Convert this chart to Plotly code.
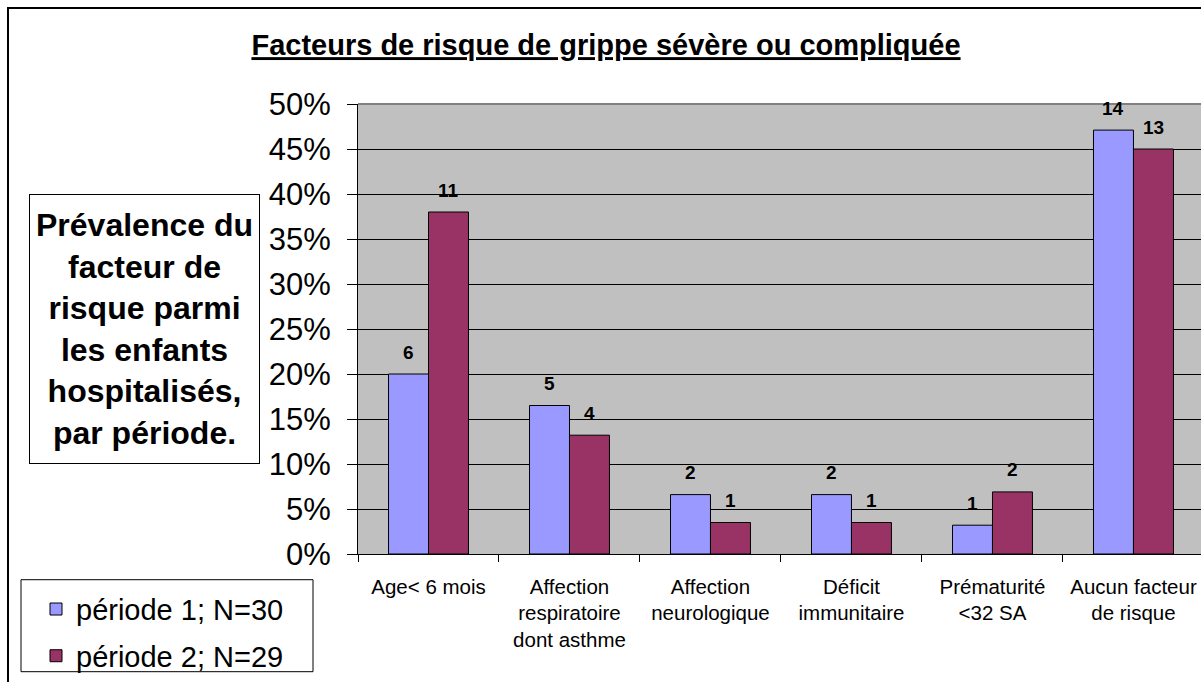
import plotly.graph_objects as go

categories = ["Age< 6 mois", "Affection<br>respiratoire<br>dont asthme", "Affection<br>neurologique",
              "Déficit<br>immunitaire", "Prématurité<br><32 SA", "Aucun facteur<br>de risque"]
cat_keys = ["age", "resp", "neuro", "deficit", "premat", "aucun"]

# prévalence (%)
periode1 = [20.0, 16.5, 6.6, 6.6, 3.2, 47.1]
periode2 = [38.0, 13.2, 3.5, 3.5, 6.9, 45.0]
# effectifs affichés au-dessus des barres
n1 = [6, 5, 2, 2, 1, 14]
n2 = [11, 4, 1, 1, 2, 13]

FONT = "Liberation Sans, Arial, sans-serif"
W, H = 1201, 682
L, R, T, B = 358, 0, 104, 682 - 559
PW, PH = W - L - R, H - T - B


def px_x(x):
    # pixels -> coordonnée paper
    return (x - L) / PW


def px_y(y):
    return (559 - y) / PH


fig = go.Figure()
fig.add_trace(go.Bar(
    x=cat_keys, y=periode1, name="période 1; N=30", legendgroup="p1",
    marker=dict(color="#9999FF", line=dict(color="black", width=1)),
))
fig.add_trace(go.Bar(
    x=cat_keys, y=periode2, name="période 2; N=29", legendgroup="p2",
    marker=dict(color="#993366", line=dict(color="black", width=1)),
))

annotations = []
for k, v, n in zip(cat_keys, periode1, n1):
    annotations.append(dict(x=k, y=v, text="<b>%d</b>" % n, showarrow=False, xshift=-20, yshift=22,
                            font=dict(family=FONT, size=19, color="black")))
for k, v, n in zip(cat_keys, periode2, n2):
    annotations.append(dict(x=k, y=v, text="<b>%d</b>" % n, showarrow=False, xshift=20, yshift=22,
                            font=dict(family=FONT, size=19, color="black")))

# encadré de gauche
annotations.append(dict(
    xref="paper", yref="paper", x=px_x(144.5), y=px_y(331), xanchor="center", yanchor="middle",
    text="<b>Prévalence du<br>facteur de<br>risque parmi<br>les enfants<br>hospitalisés,<br>par période.</b>",
    showarrow=False, align="center", width=227, height=266,
    bordercolor="black", borderwidth=1, borderpad=1, bgcolor="white",
    font=dict(family=FONT, size=32, color="black"),
))

fig.update_layout(
    width=W, height=H,
    margin=dict(l=L, r=R, t=T, b=B),
    paper_bgcolor="white", plot_bgcolor="#C0C0C0",
    barmode="group", bargap=0.433, bargroupgap=0,
    font=dict(family=FONT, color="black"),
    title=dict(text="<b><u>Facteurs de risque de grippe sévère ou compliquée</u></b>",
               x=606 / W, xanchor="center", y=1 - 45 / H, yanchor="middle",
               font=dict(family=FONT, size=29, color="black")),
    legend=dict(x=px_x(36), y=px_y(589), xanchor="left", yanchor="top",
                borderwidth=0, bgcolor="rgba(0,0,0,0)",
                font=dict(family=FONT, size=29, color="black"),
                traceorder="grouped", tracegroupgap=6),
    annotations=annotations,
    shapes=[
        dict(type="line", xref="paper", yref="paper", x0=0, x1=1, y0=1, y1=1,
             line=dict(color="#808080", width=2)),
        # cadre de la légende
        dict(type="rect", xref="paper", yref="paper", x0=px_x(21), x1=px_x(313),
             y0=px_y(678), y1=px_y(585), line=dict(color="black", width=1), fillcolor="white",
             layer="below"),
        # cadre général
        dict(type="rect", xref="paper", yref="paper", x0=px_x(8), x1=px_x(1230),
             y0=px_y(720), y1=px_y(7), line=dict(color="black", width=2), layer="above"),
    ],
)

fig.update_xaxes(
    type="category", range=[-0.5, 5.479],
    tickmode="array", tickvals=cat_keys, ticktext=categories,
    tickson="boundaries", ticks="outside", ticklen=7, tickcolor="black",
    ticklabelstandoff=14,
    showline=True, linecolor="black", linewidth=1, showgrid=False,
    tickfont=dict(family=FONT, size=20.5, color="black"),
)
fig.update_yaxes(
    range=[0, 50], dtick=5, ticksuffix="%",
    ticks="outside", ticklen=10, tickcolor="black", ticklabelstandoff=10,
    showline=True, linecolor="black", linewidth=1,
    showgrid=True, gridcolor="black", gridwidth=1, zeroline=False,
    tickfont=dict(family=FONT, size=31, color="black"),
)

# page sans marge ni débordement, le graphique occupe exactement la fenêtre
page_js = (
    "document.body.style.margin='0';"
    "document.body.style.overflow='hidden';"
    "document.documentElement.style.overflow='hidden';"
    "var gd=document.getElementById('{plot_id}');"
    "gd.parentElement.style.height='682px';"
    "gd.parentElement.style.overflow='hidden';"
)
fig.write_html("out.html", post_script=page_js, config={"displayModeBar": False})
